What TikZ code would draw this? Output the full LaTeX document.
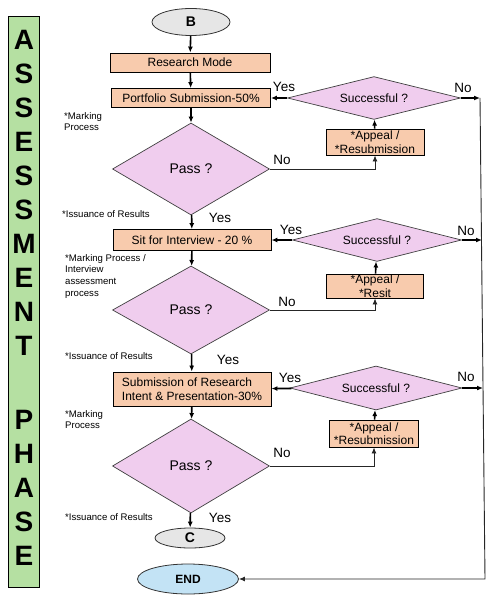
\documentclass[tikz,border=0pt]{standalone}
\usepackage{fontspec}
\setmainfont{Liberation Sans}
\usepackage{xcolor}
\usetikzlibrary{arrows.meta,shapes.geometric}
\definecolor{ink}{HTML}{000000}
\definecolor{peach}{HTML}{F8CBAD}
\definecolor{lilac}{HTML}{F0CDEE}
\definecolor{leaf}{HTML}{B5E0A2}
\definecolor{mist}{HTML}{E6E6E6}
\definecolor{sky}{HTML}{C3E3F5}
\tikzset{
  flow/.style={-{Latex[length=6pt,width=5pt]},line width=1.6pt,draw=ink},
  route/.style={-{Latex[length=6pt,width=5pt]},line width=.9pt,draw=ink!85},
  box/.style={rectangle,draw=ink,fill=peach,line width=.9pt,inner sep=0pt,align=center,font=\fontsize{12}{13.5}\selectfont},
  ask/.style={diamond,draw=ink!75,fill=lilac,line width=.7pt,inner sep=0pt,aspect=2,font=\fontsize{12}{13}\selectfont},
  pass/.style={ask,minimum width=157,font=\fontsize{14}{15}\selectfont},
  term/.style={ellipse,draw=ink!80,fill=mist,line width=.8pt,inner sep=0pt,font=\bfseries\fontsize{14}{15}\selectfont},
  note/.style={anchor=north west,align=left,inner sep=0pt,font=\fontsize{9.6}{11.7}\selectfont},
  lbl/.style={inner sep=0pt,font=\fontsize{13.5}{14}\selectfont},
  phase/.style={rectangle,draw=ink,fill=leaf,line width=.9pt},
  bigletter/.style={inner sep=0pt,font=\bfseries\fontsize{28}{28}\selectfont}
}
\begin{document}
\begin{tikzpicture}[x=1pt,y=-1pt]
\useasboundingbox (0,0) rectangle (495,599);
\node[phase,minimum width=31,minimum height=571] (bar) at (23.5,301.5) {};
\foreach \ch [count=\i] in {A,S,S,E,S,S,M,E,N,T}
  \node[bigletter] (top\i) at (24,{40+34*(\i-1)}) {\ch};
\foreach \ch [count=\i] in {P,H,A,S,E}
  \node[bigletter] (low\i) at (24,{420+34*(\i-1)}) {\ch};

\node[term,minimum width=78,minimum height=27] (b) at (191,22) {B};
\node[box,minimum width=160,minimum height=19] (rm) at (190,62.5) {Research Mode};
\node[box,minimum width=159,minimum height=19] (ps) at (191,98) {Portfolio Submission-50\%};
\node[pass,minimum height=92] (pass1) at (191,169) {Pass ?};
\node[box,minimum width=158,minimum height=21] (sit) at (192,240) {Sit for Interview - 20 \%};
\node[pass,minimum height=88] (pass2) at (191,310) {Pass ?};
\node[box,minimum width=158,minimum height=34,align=left] (sub) at (192,389) {Submission of Research\\Intent \& Presentation-30\%};
\node[pass,minimum height=94] (pass3) at (191,466) {Pass ?};
\node[term,minimum width=70,minimum height=20] (c) at (190,538) {C};
\node[term,fill=sky,minimum width=101,minimum height=30,font=\bfseries\fontsize{12}{13}\selectfont] (end) at (188,579) {END};

\node[ask,minimum width=173,minimum height=32] (suc1) at (374,98) {Successful ?};
\node[box,minimum width=98,minimum height=26] (ap1) at (375,142) {*Appeal /\\*Resubmission};
\node[ask,minimum width=169,minimum height=34] (suc2) at (377,240) {Successful ?};
\node[box,minimum width=97,minimum height=24] (ap2) at (375,286) {*Appeal /\\*Resit};
\node[ask,minimum width=172,minimum height=44] (suc3) at (376,388) {Successful ?};
\node[box,minimum width=89,minimum height=27] (ap3) at (374,433.5) {*Appeal /\\*Resubmission};

\coordinate (r1) at (480,98);
\coordinate (r2) at (482,240);
\coordinate (r3) at (483,388);
\coordinate (rend) at (485,579);

\draw[flow] (b) -- (rm);
\draw[flow] (rm) -- (ps);
\draw[flow] (ps) -- (pass1);
\draw[flow] (pass1) -- (sit);
\draw[flow] (sit) -- (pass2);
\draw[flow] (pass2) -- (sub);
\draw[flow] (sub) -- (pass3);
\draw[flow] (pass3) -- (c);

\draw[route] (pass1.east) -| (ap1.south);
\draw[route] (pass2.east) -| (ap2.south);
\draw[route] (pass3.east) -| (ap3.south);
\draw[flow] (ap1) -- (suc1);
\draw[flow] (ap2) -- (suc2);
\draw[flow] (ap3) -- (suc3);
\draw[flow] (suc1) -- (ps);
\draw[flow] (suc2) -- (sit);
\draw[flow] (suc3) -- (sub);
\draw[flow] (suc1) -- (r1);
\draw[flow] (suc2) -- (r2);
\draw[flow] (suc3) -- (r3);
\draw[route] (r1) -- (rend) -- (end.east);

\node[lbl] (yes1) at (284,87) {Yes};
\node[lbl] (no1) at (463,88) {No};
\node[lbl] (no2) at (282,160) {No};
\node[lbl] (yes2) at (220,218) {Yes};
\node[lbl] (yes3) at (291,230) {Yes};
\node[lbl] (no3) at (466,231) {No};
\node[lbl] (no4) at (287,302) {No};
\node[lbl] (yes4) at (228,360) {Yes};
\node[lbl] (yes5) at (290,378) {Yes};
\node[lbl] (no5) at (466,377) {No};
\node[lbl] (no6) at (282,453) {No};
\node[lbl] (yes6) at (220,518) {Yes};

\node[note] (mark1) at (64,112) {*Marking\\Process};
\node[note,anchor=west] (res1) at (62,214) {*Issuance of Results};
\node[note] (mark2) at (65,254) {*Marking Process /\\Interview\\assessment\\process};
\node[note,anchor=west] (res2) at (65,356) {*Issuance of Results};
\node[note] (mark3) at (65,410) {*Marking\\Process};
\node[note,anchor=west] (res3) at (65,517) {*Issuance of Results};
\end{tikzpicture}
\end{document}
